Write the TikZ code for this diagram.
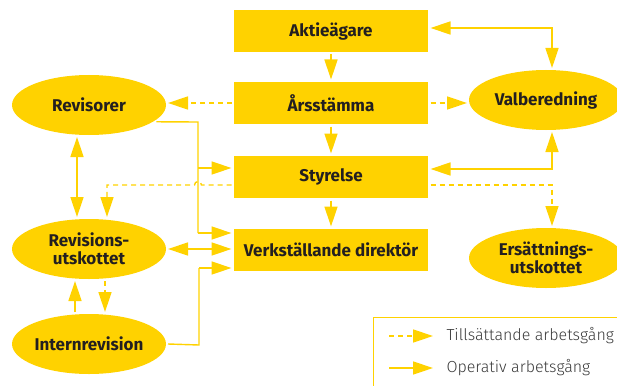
\documentclass[tikz,border=0pt]{standalone}
\usepackage{fontspec}
\setmainfont{Fira Sans}
\newfontfamily\lightfont{Fira Sans Light}
\usetikzlibrary{arrows.meta,shapes.geometric}
\definecolor{gul}{HTML}{FFD200}
\definecolor{ink}{HTML}{231F20}
\definecolor{grey}{HTML}{3A3A3A}
\begin{document}
\begin{tikzpicture}[x=1pt,y=-1pt,
  box/.style={rectangle,fill=gul,minimum width=194pt,minimum height=42pt,
    font=\fontsize{17}{18}\selectfont\bfseries,text=ink,outer sep=2.5pt},
  oval/.style={ellipse,fill=gul,minimum width=154pt,minimum height=60pt,
    font=\fontsize{17}{18}\selectfont\bfseries,text=ink,align=center,outer sep=2pt,inner sep=0pt},
  tip/.tip={Triangle[length=20pt,width=13pt]},
  op/.style={draw=gul,line width=1.4pt},
  tills/.style={draw=gul,line width=1.4pt,dash pattern=on 5pt off 4pt},
  legtext/.style={font=\lightfont\fontsize{16}{17}\selectfont,text=grey,anchor=west}]
\useasboundingbox (0,0) rectangle (617,385);

% hierarchy boxes
\node[box] (Akt) at (331,31) {Aktieägare};
\node[box] (Ars) at (331,103) {Årsstämma};
\node[box] (Sty) at (331,177) {Styrelse};
\node[box] (VD)  at (331,250) {Verkställande direktör};

% committees and functions
\node[oval] (Rev) at (89,105) {Revisorer};
\node[oval] (Val) at (546,100) {Valberedning};
\node[oval] (RU)  at (89,249) {Revisions-\\utskottet};
\node[oval] (IR)  at (89,344) {Internrevision};
\node[oval] (ER)  at (546,258) {Ersättnings-\\utskottet};

% routing points
\coordinate (vA) at (552,28);
\coordinate (vS) at (552,169);
\coordinate (rA) at (198,122);
\coordinate (rB) at (198,168);
\coordinate (rC) at (198,233);
\coordinate (iA) at (199,345);
\coordinate (iB) at (199,268);
\coordinate (sL) at (107,185);
\coordinate (sR) at (552,185);

% operative flow
\draw[op,-tip] (Akt) -- (Ars);
\draw[op,-tip] (Ars) -- (Sty);
\draw[op,-tip] (Sty) -- (VD);
\draw[op,tip-tip] (Akt.east |- vA) -- (vA) -- (Val.north -| vA);
\draw[op,tip-tip] (Sty.east |- vS) -- (vS) -- (Val.south -| vA);
\draw[op] (Rev.-14) -- (rA) -- (rC);
\draw[op,-tip] (rB) -- (Sty.west |- rB);
\draw[op,-tip] (rC) -- (VD.west |- rC);
\draw[op,tip-tip] (Rev.south -| 77,0) -- (RU.north -| 77,0);
\draw[op,tip-tip] (RU.east) -- (VD.west |- RU.east);
\draw[op,-tip] (IR.north -| 75,0) -- (RU.south -| 75,0);
\draw[op] (IR.east) -- (iA) -- (iB);
\draw[op,-tip] (iB) -- (VD.west |- iB);

% appointing flow
\draw[tills,-tip] (Ars.west) -- (Rev.east |- Ars.west);
\draw[tills,-tip] (Ars.east) -- (Val.west |- Ars.east);
\draw[tills,-tip] (Sty.east |- sR) -- (sR) -- (ER.north -| sR);
\draw[tills,-tip] (Sty.west |- sL) -- (201.5,185) arc[start angle=0,end angle=-180,radius=3.5]
  -- (sL) -- (RU.north -| sL);
\draw[tills,-tip] (RU.south -| 105,0) -- (IR.north -| 105,0);

% legend
\draw[gul,line width=0.9pt] (373.5,390) -- (373.5,317.5) -- (625,317.5);
\coordinate (l1a) at (389,336);
\coordinate (l1b) at (433,336);
\coordinate (l2a) at (389,368);
\coordinate (l2b) at (433,368);
\draw[tills,-tip] (l1a) -- (l1b);
\draw[op,-tip] (l2a) -- (l2b);
\node[legtext] (t1) at (443,336) {Tillsättande arbetsgång};
\node[legtext] (t2) at (443,368) {Operativ arbetsgång};
\end{tikzpicture}
\end{document}
